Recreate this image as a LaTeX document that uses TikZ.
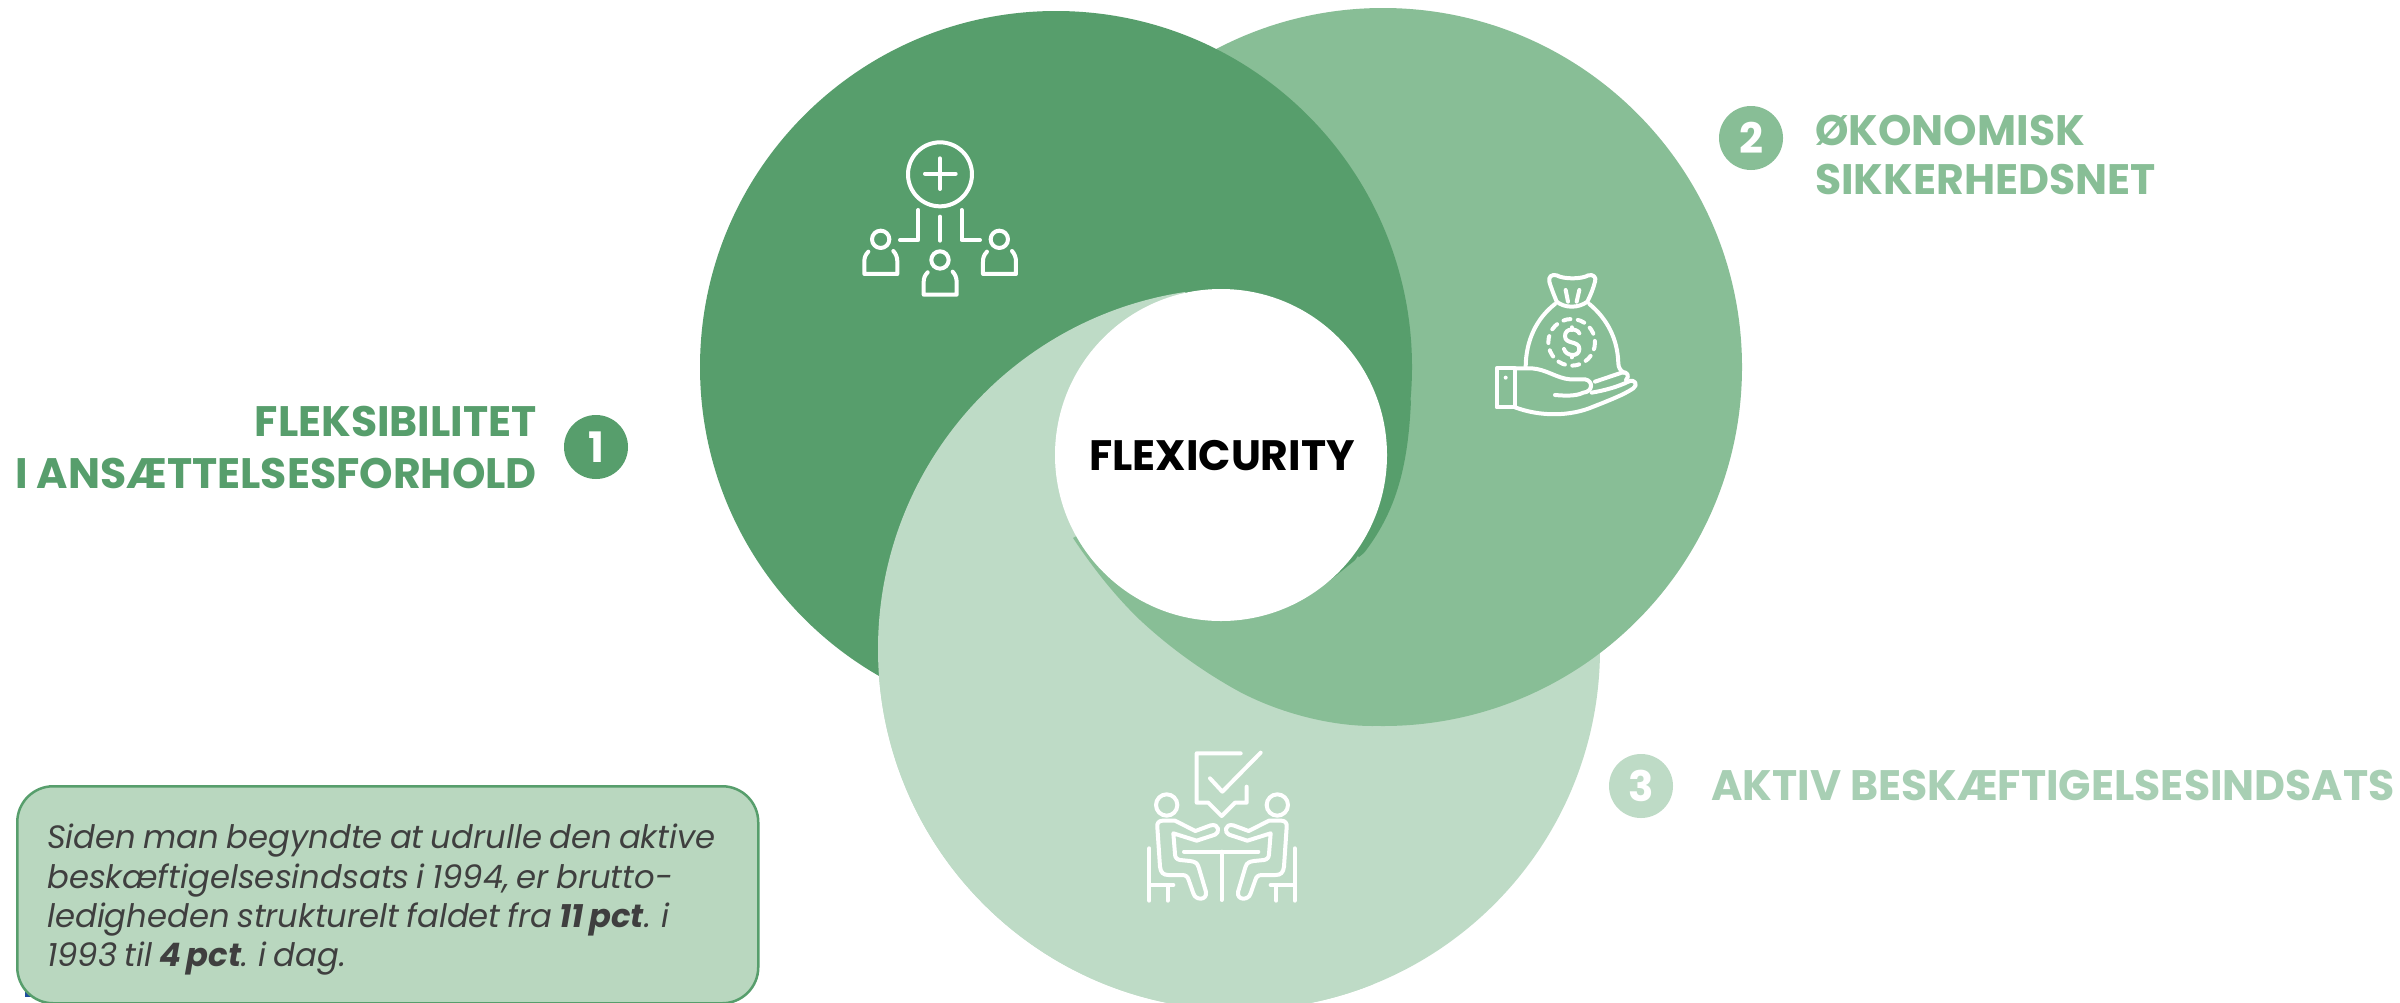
\documentclass[tikz,border=0pt]{standalone}
\usepackage{fontspec}
\setmainfont{Poppins}
\newfontfamily\notefont[WordSpace=0.75]{Poppins}
\definecolor{cdark}{HTML}{579E6C}
\definecolor{cmid}{HTML}{88BE96}
\definecolor{clight}{HTML}{BEDBC6}
\definecolor{cheadlight}{HTML}{A8CFB4}
\definecolor{cbox}{HTML}{B9D7BF}
\definecolor{ctext}{HTML}{3F3F3F}
\definecolor{cspeck}{HTML}{1F4E9E}
\tikzset{
 icon/.style={draw=white,line width=4pt,line cap=round,line join=round,fill=none},
 numdisc/.style={circle,minimum size=64pt,inner sep=0pt,text=white,font=\fontsize{42}{42}\selectfont\bfseries},
 heading/.style={inner sep=0pt,font=\fontsize{42.6}{52}\selectfont\bfseries},
}
\newcommand{\seatedfig}{%
 \draw[icon] (140,225) circle[radius=32];
 \draw[icon] (165,272) -- (128,272) .. controls (116,272) and (110,280) .. (112,292) -- (120,410) .. controls (122,428) and (130,435) .. (145,435) -- (185,435) .. controls (198,435) and (203,440) .. (206,450) -- (220,490) .. controls (226,512) and (262,512) .. (258,486) -- (236,412) .. controls (232,398) and (224,395) .. (210,393) -- (180,390) .. controls (170,388) and (165,382) .. (165,372) -- (160,310) -- (230,332) -- (285,314) .. controls (300,308) and (298,280) .. (272,286) -- (226,303) -- cycle;
 \draw[icon] (88,355) -- (88,512) (88,465) -- (160,465) (143,465) -- (143,512);
}
\begin{document}
\begin{tikzpicture}[x=1pt,y=-1pt]
\useasboundingbox (0,0) rectangle (2400,1002);
\fill[white] (0,0) rectangle (2400,1002);
\clip (0,0) rectangle (2400,1002);
% pinwheel discs
\coordinate (cD) at (1056,367);
\coordinate (cM) at (1383,367);
\coordinate (cL) at (1239,649);
\fill[clight] (cL) circle[radius=361];
\fill[cmid] (cM) circle[radius=359];
\fill[cdark] (cD) circle[radius=356];
\fill[cdark] (1411,400) .. controls (1408,470) and (1395,515) .. (1360,558) -- (1300,500) -- cycle;
\begin{scope}
 \clip (cL) circle[radius=361];
 \fill[clight] (1221,455) -- (1165,200) -- (800,200) -- (800,1010) -- (1373,1010) -- (1373,726) -- cycle;
\end{scope}
\fill[cmid] (1221,455) -- (1073,538) .. controls (1093,568) and (1115,596) .. (1140,620) .. controls (1170,648) and (1205,673) .. (1240,692) .. controls (1280,713) and (1330,726) .. (1373,726) -- (1500,600) -- (1500,444) -- (1358,558) -- (1327,583) -- cycle;
\node[circle,fill=white,minimum size=332pt,inner sep=0pt] (core) at (1221,455) {};
\node[inner sep=0pt,text=black,font=\fontsize{42.5}{42.5}\selectfont\bfseries] (flex) at (1222,456) {FLEXICURITY};
% headings
\node[numdisc,fill=cdark] (n1) at (596,447) {1};
\node[heading,text=cdark,anchor=base east] (h1a) at (537,436) {FLEKSIBILITET};
\node[heading,text=cdark,anchor=base east] (h1b) at (537,488) {I ANSÆTTELSESFORHOLD};
\node[numdisc,fill=cmid] (n2) at (1751,138) {2};
\node[heading,text=cmid,anchor=base west] (h2a) at (1815,145) {ØKONOMISK};
\node[heading,text=cmid,anchor=base west] (h2b) at (1815,194) {SIKKERHEDSNET};
\node[numdisc,fill=clight] (n3) at (1641,786) {3};
\node[heading,text=cheadlight,anchor=base west] (h3) at (1711,800) {AKTIV BESKÆFTIGELSESINDSATS};
% note box
\fill[cspeck] (25,985) rectangle (34,997);
\node[draw=cdark,line width=2.5pt,fill=cbox,rounded corners=36pt,minimum width=741pt,minimum height=217pt,inner sep=0pt,anchor=north west] (note) at (16,785) {};
\node[inner sep=0pt,anchor=north west,align=left,text=ctext,font=\notefont\fontsize{32.3}{39.3}\selectfont\itshape] (notetext) at (47,824) {Siden man begyndte at udrulle den aktive\\beskæftigelsesindsats i 1994, er brutto-\\ledigheden strukturelt faldet fra \textbf{11 pct}. i\\1993 til \textbf{4 pct}. i dag.};
% icon 1: organisation
\begin{scope}[shift={(820,120)},x=0.3333pt,y=-0.3333pt]
 \draw[icon] (360,163) circle[radius=96];
 \draw[icon] (315,161) -- (407,161) (360,115) -- (360,207);
 \draw[icon] (295,270) -- (295,360) -- (240,360);
 \draw[icon] (360,290) -- (360,362);
 \draw[icon] (425,270) -- (425,360) -- (480,360);
 \foreach \dx/\dy in {0/0,356/0,178/62}{
  \begin{scope}[shift={(\dx,\dy)}]
  \draw[icon] (182,358) circle[radius=26];
  \draw[icon] (145,395) .. controls (136,405) and (133,412) .. (133,425) -- (133,462) -- (232,462) -- (232,425) .. controls (232,412) and (228,402) .. (220,393);
  \end{scope}
 }
\end{scope}
% icon 2: money bag
\begin{scope}[shift={(1460,250)},x=0.3333pt,y=-0.3333pt]
 \draw[icon] (290,155) .. controls (280,130) and (272,110) .. (268,95) .. controls (265,80) and (275,72) .. (290,76) .. controls (310,88) and (365,88) .. (385,76) .. controls (400,72) and (410,82) .. (405,95) .. controls (400,115) and (392,135) .. (382,155) .. controls (355,175) and (315,175) .. (290,155) -- cycle;
 \draw[icon] (317,120) -- (324,155) (358,120) -- (350,155);
 \draw[icon] (285,162) .. controls (230,205) and (198,270) .. (197,350);
 \draw[icon] (388,162) .. controls (440,205) and (473,265) .. (475,340) .. controls (475,350) and (480,362) .. (492,368);
 \draw[icon,dash pattern=on 7pt off 7.5pt] (335,277) circle[radius=70];
 \draw[icon] (358,250) .. controls (352,235) and (315,232) .. (315,258) .. controls (315,285) and (358,270) .. (358,297) .. controls (358,322) and (318,320) .. (312,297);
 \draw[icon] (335,232) -- (335,240) (335,315) -- (335,322);
 \draw[icon] (110,355) rectangle (165,472);
 \fill[white] (137,383) circle[radius=6];
 \draw[icon] (165,355) -- (215,355) .. controls (260,358) and (290,385) .. (330,388) -- (375,388) .. controls (400,392) and (400,425) .. (370,428) .. controls (345,440) and (310,437) .. (285,435);
 \draw[icon] (405,395) -- (485,368) .. controls (502,362) and (510,380) .. (498,390);
 \draw[icon] (165,472) .. controls (240,500) and (330,500) .. (400,470) .. controls (450,450) and (490,435) .. (520,415) .. controls (535,405) and (525,385) .. (505,395) .. controls (470,412) and (430,422) .. (395,428);
\end{scope}
% icon 3: meeting
\begin{scope}[shift={(1120,730)},x=0.3333pt,y=-0.3333pt]
 \draw[icon] (362,70) -- (230,70) -- (230,218) -- (265,218) -- (305,258) -- (345,218) -- (380,218) -- (380,170);
 \draw[icon] (270,145) -- (307,185) -- (422,68);
 \draw[icon] (192,365) -- (415,365) (305,365) -- (305,510);
 \seatedfig
 \begin{scope}[shift={(612,0)},xscale=-1]
 \seatedfig
 \end{scope}
\end{scope}
\end{tikzpicture}
\end{document}
